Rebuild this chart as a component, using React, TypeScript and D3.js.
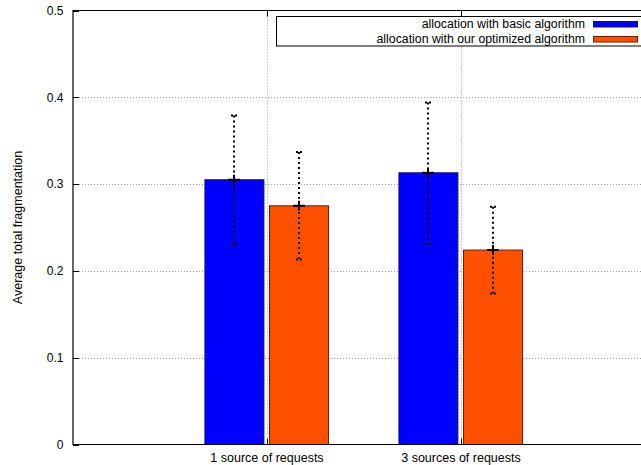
import React from "react";
import * as d3 from "d3";

const categories = ["1 source of requests", "3 sources of requests"];
const seriesNames = [
  "allocation with basic algorithm",
  "allocation with our optimized algorithm",
];
const basicMean = [0.305, 0.313];
const basicLow = [0.23, 0.231];
const basicHigh = [0.379, 0.394];
const optMean = [0.275, 0.224];
const optLow = [0.213, 0.174];
const optHigh = [0.337, 0.274];
const yTicks = [0, 0.1, 0.2, 0.3, 0.4, 0.5];
const yTickLabels = ["0", "0.1", "0.2", "0.3", "0.4", "0.5"];

const W = 641;
const H = 465;
const FONT = "'Liberation Sans', Arial, Helvetica, sans-serif";

export default function App() {
  const left = 73;
  const right = 655;
  const top = 10.5;
  const bottom = 444.5;
  const x = d3.scaleLinear().domain([-1, 2]).range([left, right]);
  const y = d3.scaleLinear().domain([0, 0.5]).range([bottom, top]);
  const barW = 0.304;
  const offsets = [-0.168, 0.165];
  const fills = ["#0000ff", "#ff5000"];
  const strokes = ["#10106a", "#6a2000"];
  const series = [
    { mean: basicMean, low: basicLow, high: basicHigh },
    { mean: optMean, low: optLow, high: optHigh },
  ];
  const catX = categories.map((_, i) => i);

  return (
    <div style={{ position: "fixed", left: 0, top: 0 }}>
      <svg width={W} height={H} style={{ display: "block" }} fontFamily={FONT}>
        <rect x={0} y={0} width={W} height={H} fill="#fff" />
        {/* horizontal grid */}
        {yTicks.slice(1, -1).map((t) => (
          <line
            key={"hg" + t}
            x1={left}
            x2={right}
            y1={Math.round(y(t)) + 0.5}
            y2={Math.round(y(t)) + 0.5}
            stroke="#a0a0a0"
            strokeDasharray="1,2"
          />
        ))}
        {/* vertical grid */}
        {catX.map((c) => (
          <line
            key={"vg" + c}
            x1={Math.round(x(c)) + 0.5}
            x2={Math.round(x(c)) + 0.5}
            y1={top}
            y2={bottom}
            stroke="#a0a0a0"
            strokeDasharray="1,2"
          />
        ))}
        {/* y tick marks */}
        {yTicks.map((t) => (
          <line
            key={"yt" + t}
            x1={left}
            x2={left + 6}
            y1={Math.round(y(t)) + 0.5}
            y2={Math.round(y(t)) + 0.5}
            stroke="#000"
          />
        ))}
        {catX.map((c) => (
          <g key={"xt" + c}>
            <line x1={Math.round(x(c)) + 0.5} x2={Math.round(x(c)) + 0.5} y1={bottom} y2={bottom - 6} stroke="#000" />
            <line x1={Math.round(x(c)) + 0.5} x2={Math.round(x(c)) + 0.5} y1={top} y2={top + 6} stroke="#000" />
          </g>
        ))}
        {/* bars */}
        {series.map((s, si) =>
          s.mean.map((v, ci) => {
            const x0 = x(ci + offsets[si] - barW / 2);
            const x1 = x(ci + offsets[si] + barW / 2);
            return (
              <rect
                key={`b${si}-${ci}`}
                x={x0}
                y={y(v)}
                width={x1 - x0}
                height={y(0) - y(v)}
                fill={fills[si]}
                stroke={strokes[si]}
                strokeWidth={1}
              />
            );
          })
        )}
        {/* error bars */}
        {series.map((s, si) =>
          s.mean.map((v, ci) => {
            const cx = Math.round(x(ci + offsets[si]));
            return (
              <g key={`e${si}-${ci}`} stroke="#000">
                <line x1={cx} x2={cx} y1={y(s.high[ci])} y2={y(s.low[ci])} strokeWidth={2} strokeDasharray="2,3" />
                <line x1={cx - 3} x2={cx + 3} y1={y(s.high[ci])} y2={y(s.high[ci])} strokeWidth={2} strokeDasharray="2,2" />
                <line x1={cx - 3} x2={cx + 3} y1={y(s.low[ci])} y2={y(s.low[ci])} strokeWidth={2} strokeDasharray="2,2" />
                <line x1={cx - 6} x2={cx + 6} y1={y(v)} y2={y(v)} strokeWidth={2} />
                <line x1={cx} x2={cx} y1={y(v) - 5} y2={y(v) + 5} strokeWidth={2} />
              </g>
            );
          })
        )}
        {/* border */}
        <path
          d={`M${right},${top}H${left}V${bottom}H${right}`}
          fill="none"
          stroke="#000"
          strokeWidth={1.2}
        />
        {/* y tick labels */}
        {yTicks.map((t, i) => (
          <text
            key={"yl" + t}
            x={63.5}
            y={y(t)}
            dy="0.35em"
            textAnchor="end"
            fontSize={12}
            fill="#000"
          >
            {yTickLabels[i]}
          </text>
        ))}
        {/* x labels */}
        {categories.map((c, i) => (
          <text key={c} x={x(i)} y={462} textAnchor="middle" fontSize={12.5} fill="#000">
            {c}
          </text>
        ))}
        {/* y title */}
        <text
          transform={`translate(22,${(top + bottom) / 2}) rotate(-90)`}
          textAnchor="middle"
          fontSize={12.5}
          fill="#000"
        >
          Average total fragmentation
        </text>
        {/* legend */}
        <rect x={276.5} y={16.5} width={400} height={29.5} fill="#fff" stroke="#000" />
        {seriesNames.map((n, i) => (
          <g key={n}>
            <text x={585} y={24 + i * 15} dy="0.35em" textAnchor="end" fontSize={12.3} fill="#000">
              {n}
            </text>
            <rect
              x={593.5}
              y={21.5 + i * 15}
              width={44}
              height={5.5}
              fill={fills[i]}
              stroke={strokes[i]}
            />
          </g>
        ))}
      </svg>
    </div>
  );
}
